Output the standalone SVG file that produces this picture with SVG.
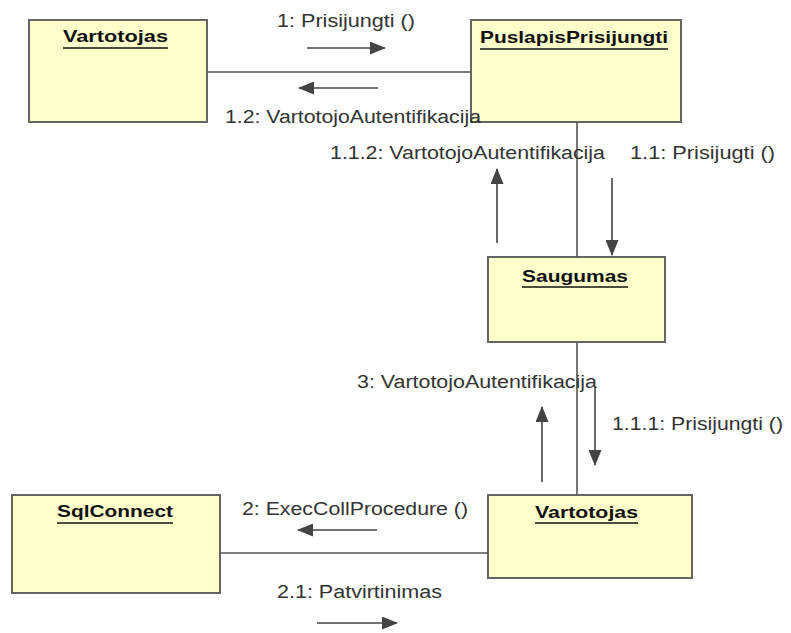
<svg xmlns="http://www.w3.org/2000/svg" width="791" height="633" viewBox="0 0 791 633">
  <style>
    .obj { fill: #ffffcc; stroke: #666666; stroke-width: 2; }
    .title { font-family: "Liberation Sans", Arial, sans-serif; font-size: 17px; font-weight: bold; fill: #111111; }
    .uline { stroke: #111111; stroke-width: 1.6; }
    .link { stroke: #555555; stroke-width: 1.6; fill: none; }
    .msg { stroke: #444444; stroke-width: 1.6; fill: none; marker-end: url(#head); }
    .lbl { font-family: "Liberation Sans", Arial, sans-serif; font-size: 18px; fill: #333333; }
  </style>
  <defs>
    <marker id="head" markerUnits="userSpaceOnUse" markerWidth="16" markerHeight="13" refX="15" refY="6.5" orient="auto">
      <path d="M0,0 L16,6.5 L0,13 z" fill="#444444"/>
    </marker>
  </defs>
  <rect width="791" height="633" fill="#ffffff"/>

  <g id="vartotojas-top">
    <rect class="obj" x="29" y="20" width="178" height="102"/>
    <text class="title" x="63" y="42" textLength="105" lengthAdjust="spacingAndGlyphs">Vartotojas</text>
    <line class="uline" x1="63" y1="48" x2="168" y2="48"/>
  </g>

  <g id="puslapis-prisijungti">
    <rect class="obj" x="471" y="20" width="210" height="102"/>
    <text class="title" x="480" y="43" textLength="188" lengthAdjust="spacingAndGlyphs">PuslapisPrisijungti</text>
    <line class="uline" x1="480" y1="49" x2="668" y2="49"/>
  </g>

  <g id="saugumas">
    <rect class="obj" x="488" y="257" width="177" height="85"/>
    <text class="title" x="522" y="282" textLength="106" lengthAdjust="spacingAndGlyphs">Saugumas</text>
    <line class="uline" x1="522" y1="287" x2="628" y2="287"/>
  </g>

  <g id="sqlconnect">
    <rect class="obj" x="12" y="495" width="208" height="98"/>
    <text class="title" x="57" y="517" textLength="116" lengthAdjust="spacingAndGlyphs">SqlConnect</text>
    <line class="uline" x1="57" y1="523" x2="173" y2="523"/>
  </g>

  <g id="vartotojas-bottom">
    <rect class="obj" x="488" y="495" width="204" height="83"/>
    <text class="title" x="535" y="518" textLength="103" lengthAdjust="spacingAndGlyphs">Vartotojas</text>
    <line class="uline" x1="535" y1="523" x2="638" y2="523"/>
  </g>

  <!-- links between objects, with their message arrows and labels on top -->
  <g id="connectors">
    <line class="link" x1="207" y1="72" x2="471" y2="72"/>
    <line class="link" x1="577" y1="122" x2="577" y2="257"/>
    <line class="link" x1="577" y1="342" x2="577" y2="495"/>
    <line class="link" x1="220" y1="553" x2="488" y2="553"/>

    <line class="msg" x1="307" y1="48" x2="385" y2="48"/>
    <line class="msg" x1="378" y1="88" x2="299" y2="88"/>
    <line class="msg" x1="497" y1="243" x2="497" y2="169"/>
    <line class="msg" x1="612" y1="178" x2="612" y2="255"/>
    <line class="msg" x1="542" y1="482" x2="542" y2="407"/>
    <line class="msg" x1="595" y1="388" x2="595" y2="465"/>
    <line class="msg" x1="377" y1="530" x2="298" y2="530"/>
    <line class="msg" x1="317" y1="623" x2="397" y2="623"/>

    <text class="lbl" x="277" y="27" textLength="138" lengthAdjust="spacingAndGlyphs">1: Prisijungti ()</text>
    <text class="lbl" x="225" y="123" textLength="256" lengthAdjust="spacingAndGlyphs">1.2: VartotojoAutentifikacija</text>
    <text class="lbl" x="330" y="159" textLength="275" lengthAdjust="spacingAndGlyphs">1.1.2: VartotojoAutentifikacija</text>
    <text class="lbl" x="630" y="159" textLength="145" lengthAdjust="spacingAndGlyphs">1.1: Prisijugti ()</text>
    <text class="lbl" x="357" y="388" textLength="240" lengthAdjust="spacingAndGlyphs">3: VartotojoAutentifikacija</text>
    <text class="lbl" x="612" y="430" textLength="171" lengthAdjust="spacingAndGlyphs">1.1.1: Prisijungti ()</text>
    <text class="lbl" x="242" y="515" textLength="226" lengthAdjust="spacingAndGlyphs">2: ExecCollProcedure ()</text>
    <text class="lbl" x="277" y="598" textLength="165" lengthAdjust="spacingAndGlyphs">2.1: Patvirtinimas</text>
  </g>
</svg>
